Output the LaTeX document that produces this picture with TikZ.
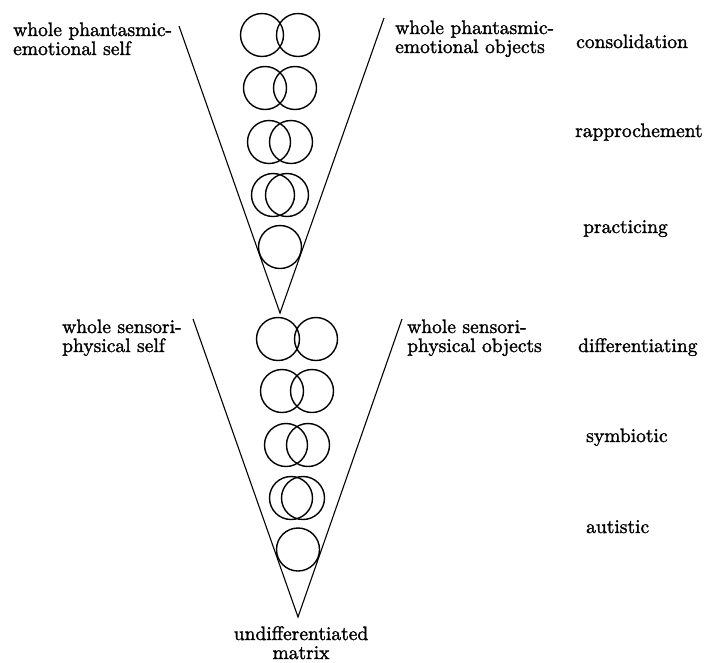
\documentclass[tikz,border=0pt]{standalone}
\usepackage{fontspec}
\setmainfont{lmroman10-regular.otf}[FakeBold=1.5]
\begin{document}
\begin{tikzpicture}[x=1pt,y=-1pt,
  lbl/.style={font=\fontsize{19.5}{19}\selectfont, inner sep=0pt, align=left, anchor=base west},
  ring/.style={circle, draw, line width=1.4pt, minimum size=43pt, inner sep=0pt},
  vline/.style={line width=1.1pt}]
\useasboundingbox (0,0) rectangle (708,662);

% upper cone
\coordinate (tl) at (179,26);
\coordinate (tr) at (384,18);
\coordinate (ta) at (280,313);
\draw[vline] (tl) -- (ta) -- (tr);

\foreach \y/\s [count=\i] in {35/36,88/30,142/22,195/14}{
  \node[ring] (t\i a) at ({280-\s/2},\y) {};
  \node[ring] (t\i b) at ({280+\s/2},\y) {};
}
\node[ring] (t5) at (280,247) {};

% lower cone
\coordinate (bl) at (193,319);
\coordinate (br) at (402,319);
\coordinate (ba) at (298,617);
\draw[vline] (bl) -- (ba) -- (br);

\foreach \y/\s [count=\i] in {339/38,391/30,445/22,498/12}{
  \node[ring] (b\i a) at ({297-\s/2},\y) {};
  \node[ring] (b\i b) at ({297+\s/2},\y) {};
}
\node[ring] (b5) at (298,549.5) {};

% labels (multi-line nodes: base = baseline of last line)
\node[lbl] (selfA) at (13,55) {whole phantasmic-\\emotional self};
\node[lbl] (objA) at (395,53) {whole phantasmic-\\emotional objects};
\node[lbl] (consol) at (576,48) {consolidation};
\node[lbl] (rappr) at (575,137) {rapprochement};
\node[lbl] (pract) at (583,233) {practicing};
\node[lbl] (selfB) at (62,352) {whole sensori-\\physical self};
\node[lbl] (objB) at (407,352) {whole sensori-\\physical objects};
\node[lbl] (diff) at (578,352) {differentiating};
\node[lbl] (symb) at (586,442) {symbiotic};
\node[lbl] (aut) at (586,533) {autistic};
\node[lbl, align=center, anchor=base] (matrix) at (301,659) {undifferentiated\\matrix};
\end{tikzpicture}
\end{document}
